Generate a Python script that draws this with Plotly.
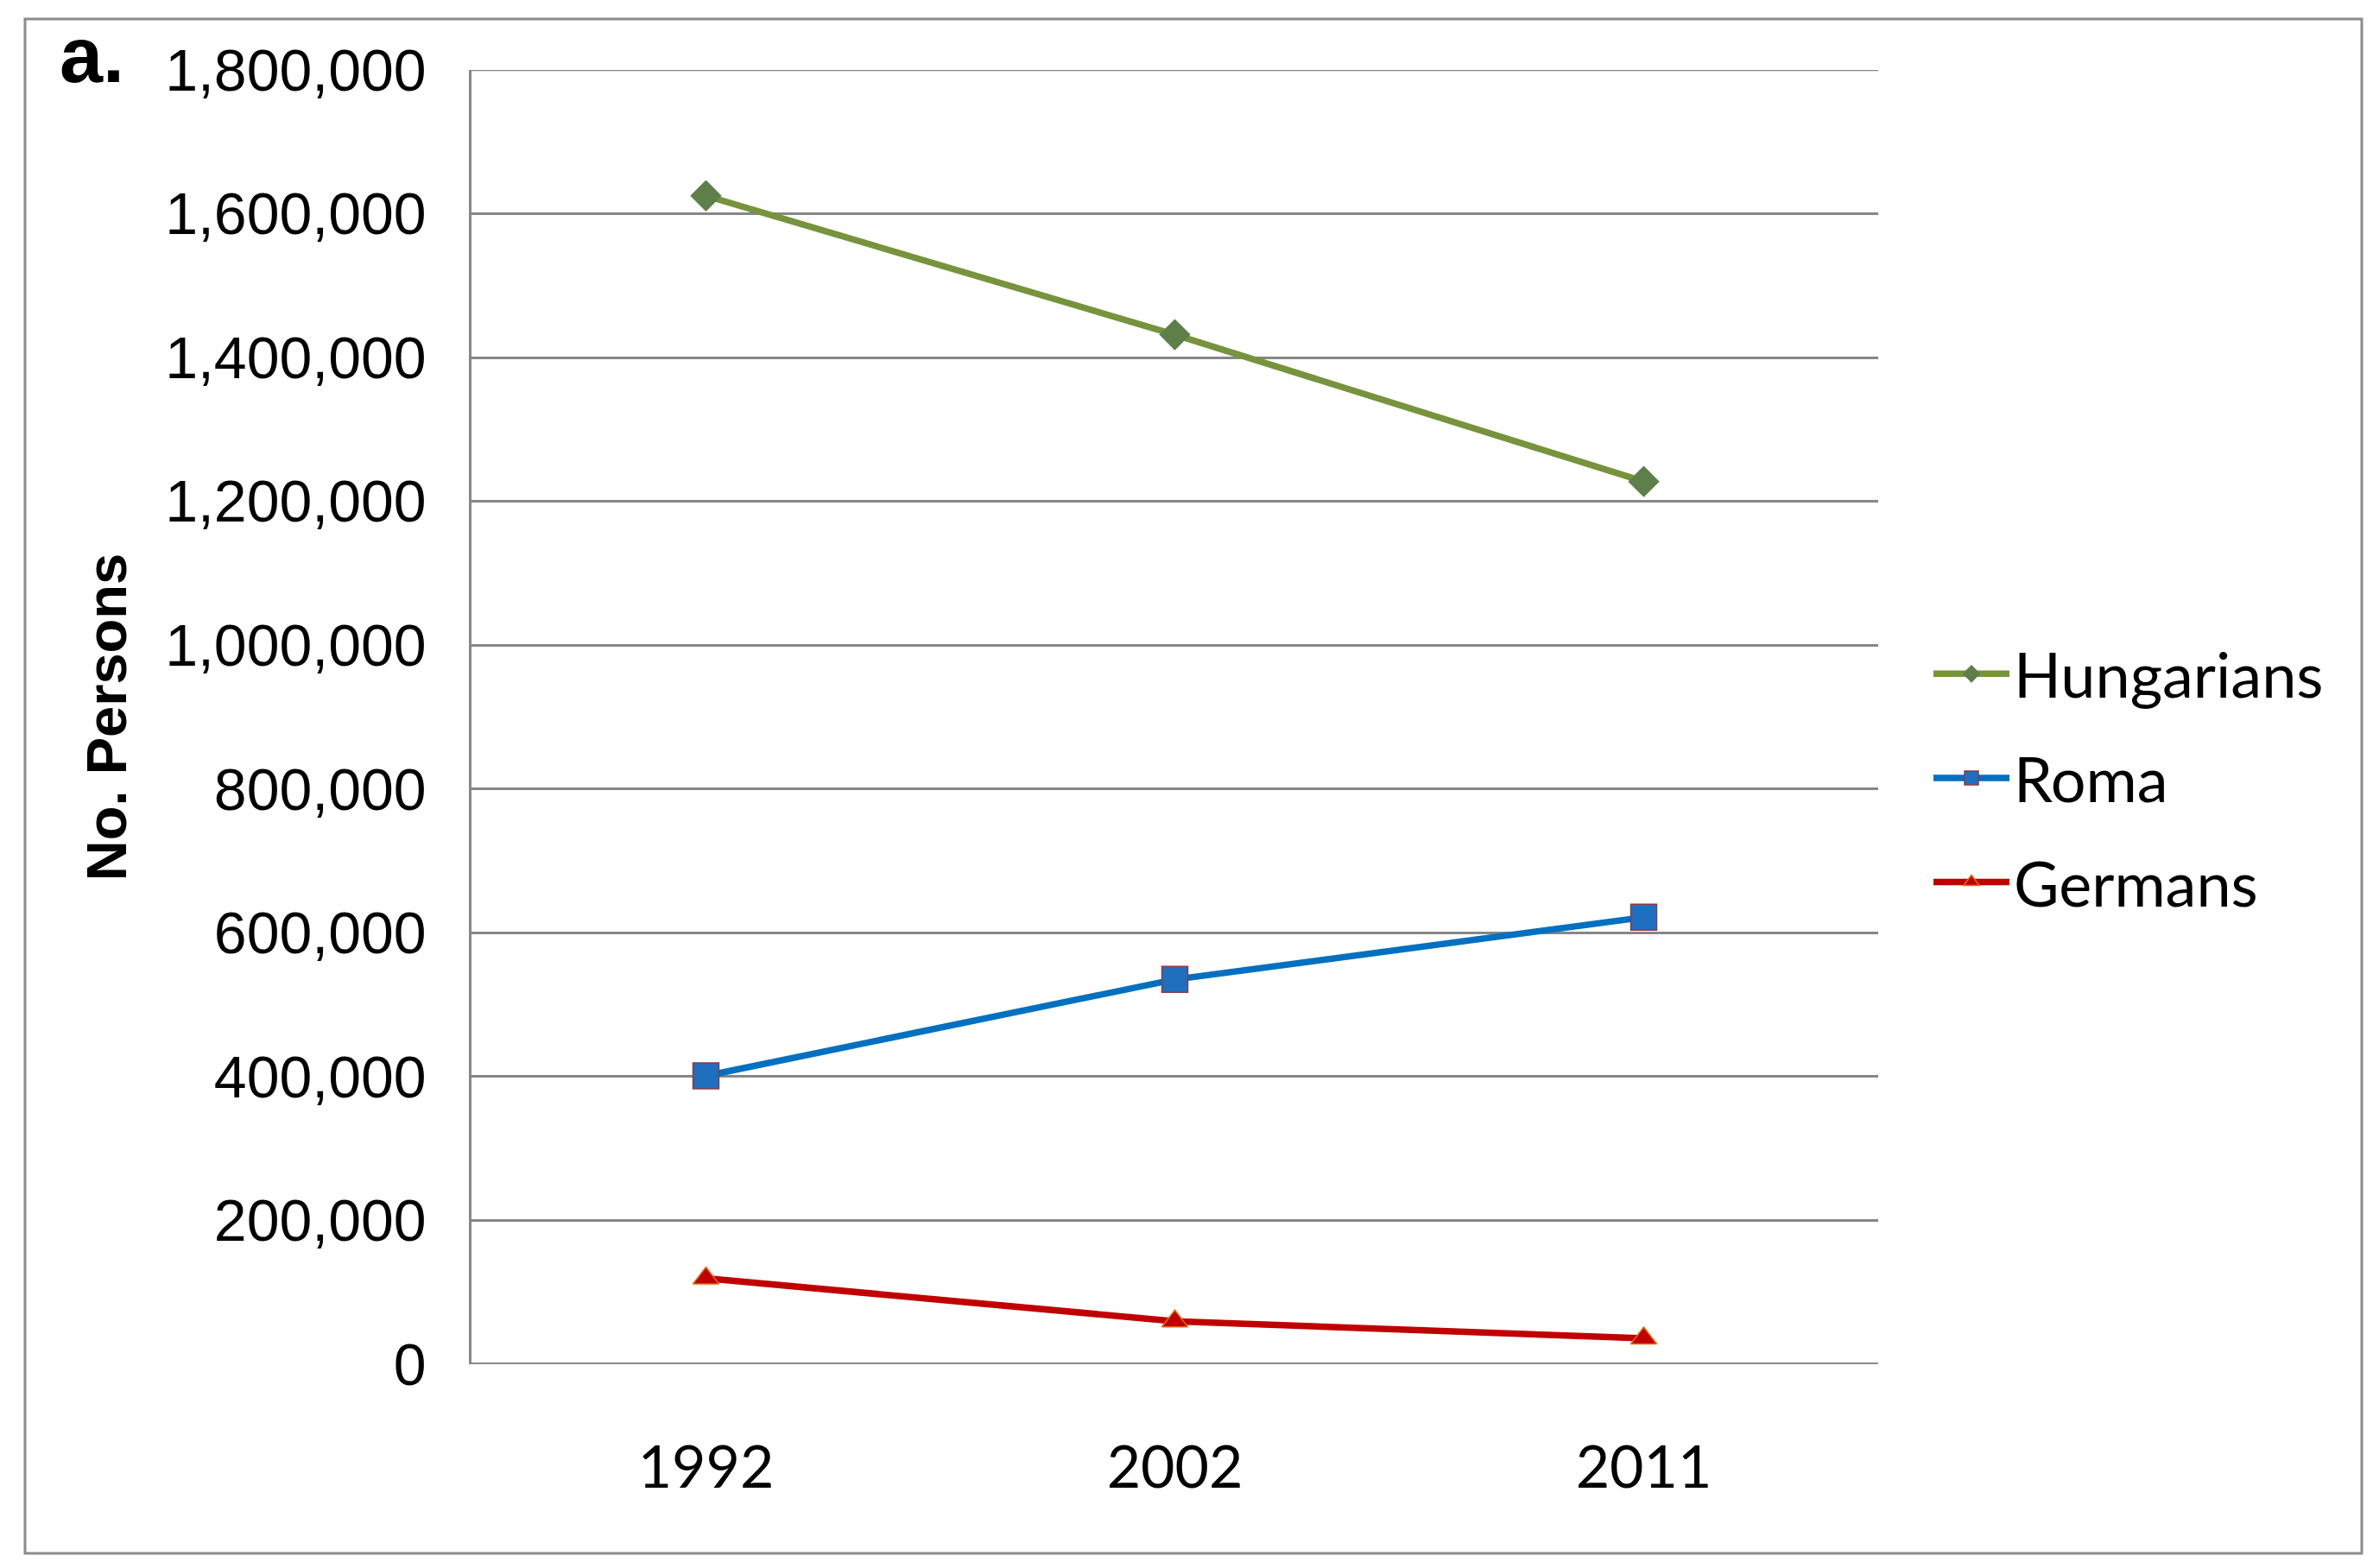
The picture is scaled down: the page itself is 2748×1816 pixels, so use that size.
import plotly.graph_objects as go

years = ["1992", "2002", "2011"]
hungarians = [1624959, 1431807, 1227623]
roma = [401087, 535140, 621573]
germans = [119462, 59764, 36042]
y_ticks = [0, 200000, 400000, 600000, 800000, 1000000, 1200000, 1400000, 1600000, 1800000]
y_tick_labels = ["0", "200,000", "400,000", "600,000", "800,000", "1,000,000",
                 "1,200,000", "1,400,000", "1,600,000", "1,800,000"]

W, H = 2748, 1816
L, R, T, B = 538, 2167, 73, 1572

fig = go.Figure()
fig.add_trace(go.Scatter(
    x=years, y=hungarians, name="Hungarians", mode="lines+markers", legendgroup="a",
    line=dict(color="#77933C", width=7.5),
    marker=dict(symbol="diamond", size=28, color="#5E7F4A", line=dict(width=0))))
fig.add_trace(go.Scatter(
    x=years, y=roma, name="Roma", mode="lines+markers", legendgroup="b",
    line=dict(color="#0070C0", width=7.5),
    marker=dict(symbol="square", size=30, color="#1F6FBF", line=dict(width=1.5, color="#8B3A4A"))))
fig.add_trace(go.Scatter(
    x=years, y=germans, name="Germans", mode="lines+markers", legendgroup="c",
    line=dict(color="#C00000", width=7.5),
    marker=dict(symbol="triangle-up", size=26, color="#C00000", line=dict(width=1.5, color="#E36C09"))))

pw, ph = R - L, B - T
def px(x):
    return (x - L) / pw
def py(y):
    return (B - y) / ph

fig.update_layout(
    width=W, height=H,
    margin=dict(l=L, r=W - R, t=T, b=H - B),
    paper_bgcolor="white", plot_bgcolor="white",
    font=dict(family="Liberation Sans, Arial", color="black"),
    showlegend=True,
    legend=dict(
        x=px(2226), y=py(893), xanchor="left", yanchor="middle",
        font=dict(family="Lato", size=72, color="black"),
        tracegroupgap=24, itemwidth=88, bgcolor="rgba(0,0,0,0)"),
    xaxis=dict(
        type="category", range=[-0.5, 2.5], showgrid=False,
        showline=False, zeroline=False, ticks="",
        tickfont=dict(family="Lato", size=68, color="black"),
        ticklabelstandoff=74),
    yaxis=dict(
        range=[0, 1800000], tickvals=y_ticks, ticktext=y_tick_labels,
        showgrid=True, gridcolor="#878787", gridwidth=2.5,
        showline=True, linecolor="#878787", linewidth=2.5,
        zeroline=False, ticks="",
        tickfont=dict(family="Liberation Sans, Arial", size=68, color="black"),
        ticklabelstandoff=36,
        title=dict(text="<b>No. Persons</b>", font=dict(family="Liberation Sans, Arial", size=65, color="black"),
                   standoff=24)),
    shapes=[
        dict(type="rect", xref="paper", yref="paper",
             x0=px(21), x1=px(2727), y0=py(1791), y1=py(14),
             line=dict(color="#8C8C8C", width=3), fillcolor="rgba(0,0,0,0)", layer="below"),
        dict(type="line", xref="paper", yref="y", x0=0, x1=1, y0=0, y1=0,
             line=dict(color="#8C8C8C", width=4), layer="below"),
        dict(type="line", xref="paper", yref="y", x0=0, x1=1, y0=y_ticks[-1], y1=y_ticks[-1],
             line=dict(color="#878787", width=2.5), layer="below"),
    ],
    annotations=[
        dict(text="<b>a.</b>", xref="paper", yref="paper", x=px(98), y=py(56),
             xanchor="center", yanchor="middle", showarrow=False,
             font=dict(family="Liberation Sans, Arial", size=90, color="black")),
    ],
)

fig.write_html("out.html")
